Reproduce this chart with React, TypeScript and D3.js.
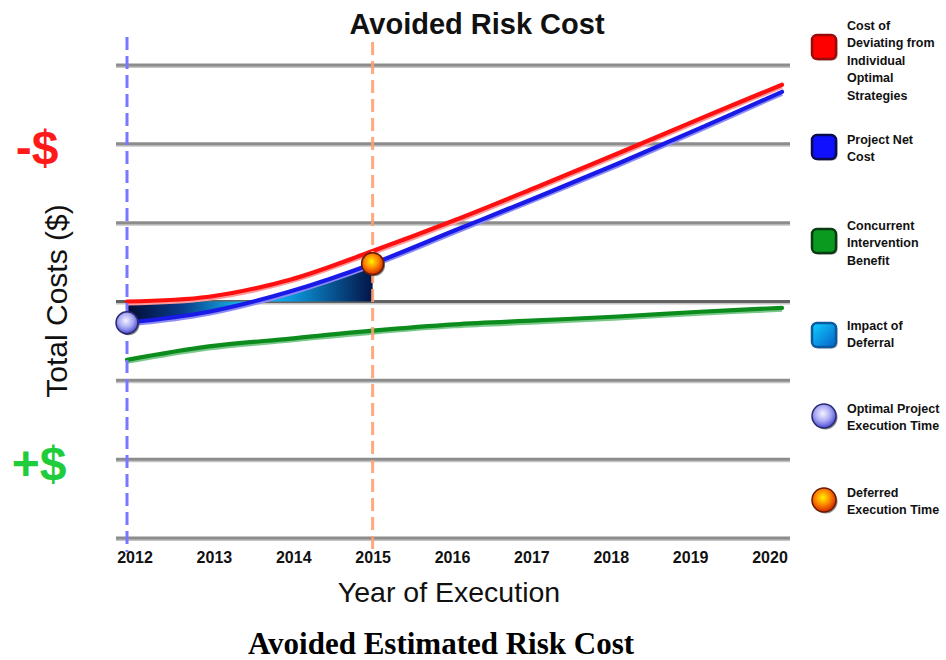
import React from "react";
import * as d3 from "d3";

// Years on the horizontal axis
const years = [2012, 2013, 2014, 2015, 2016, 2017, 2018, 2019, 2020];

// Cost curves (relative cost units; 0 = reference line, positive = higher cost)
const deviationCost = [0, 0.06, 0.28, 0.64, 1.03, 1.45, 1.88, 2.32, 2.75];
const projectNetCost = [-0.27, -0.13, 0.13, 0.48, 0.9, 1.32, 1.75, 2.2, 2.66];
const interventionBenefit = [-0.74, -0.57, -0.47, -0.37, -0.29, -0.24, -0.19, -0.13, -0.08];

// Horizontal grid levels
const gridLevels = [3, 2, 1, 0, -1, -2, -3];

const optimalYear = 2012;
const deferredYear = 2015;

// Legend entries
const legendLabels = [
  ["Cost of", "Deviating from", "Individual", "Optimal", "Strategies"],
  ["Project Net", "Cost"],
  ["Concurrent", "Intervention", "Benefit"],
  ["Impact of", "Deferral"],
  ["Optimal Project", "Execution Time"],
  ["Deferred", "Execution Time"],
];
const legendKinds = ["red", "blue", "green", "impact", "optimal", "deferred"];

const W = 946;
const H = 660;

export default function App() {
  const x = d3.scaleLinear().domain([2012, 2020]).range([127, 782]);
  const y = d3.scaleLinear().domain([-3, 3]).range([538, 65]);
  const xLabel = d3.scalePoint<number>().domain(years).range([135, 770]);

  const curve = d3.curveCatmullRom.alpha(0.5);

  const line = (vals: number[]) =>
    d3
      .line<number>()
      .x((_, i) => x(years[i]))
      .y((v) => y(v))
      .curve(curve)(vals) || "";

  const impactArea =
    d3
      .area<number>()
      .x((_, i) => x(years[i]))
      .y0(y(0))
      .y1((v) => y(v))
      .curve(curve)(projectNetCost) || "";

  const optIdx = years.indexOf(optimalYear);
  const defIdx = years.indexOf(deferredYear);

  const sans = "'Liberation Sans', Arial, sans-serif";

  const legendFirstLine = [25, 139, 225, 325, 408, 492];
  const legendSymbolY = [47, 147, 241, 335, 416, 500];

  const symbol = (kind: string, cy: number) => {
    const sx = 812;
    const s = 24;
    if (kind === "optimal" || kind === "deferred") {
      return (
        <g>
          <circle cx={sx + 12 + 1.5} cy={cy + 1.5} r={12} fill="#444" opacity={0.6} />
          <circle
            cx={sx + 12}
            cy={cy}
            r={12}
            fill={kind === "optimal" ? "url(#gOptimal)" : "url(#gDeferred)"}
            stroke={kind === "optimal" ? "#2a2a70" : "#6a1a00"}
            strokeWidth={1.5}
          />
        </g>
      );
    }
    const fills: Record<string, string> = {
      red: "#ff0000",
      blue: "#1010ff",
      green: "#0a9a20",
      impact: "url(#gImpactSym)",
    };
    const strokes: Record<string, string> = {
      red: "#9a0a0a",
      blue: "#0a0a50",
      green: "#0a3a12",
      impact: "#0a5aa0",
    };
    return (
      <g>
        <rect x={sx + 1.5} y={cy - s / 2 + 1.5} width={s} height={s} rx={5} fill="#333" opacity={0.5} />
        <rect
          x={sx}
          y={cy - s / 2}
          width={s}
          height={s}
          rx={5}
          fill={fills[kind]}
          stroke={strokes[kind]}
          strokeWidth={2.5}
        />
      </g>
    );
  };

  return (
    <svg
      width={W}
      height={H}
      viewBox={`0 0 ${W} ${H}`}
      style={{ position: "absolute", left: 0, top: 0, display: "block", background: "#fff" }}
    >
      <defs>
        <linearGradient id="gImpact" x1={x(2012)} x2={x(2015)} y1={0} y2={0} gradientUnits="userSpaceOnUse">
          <stop offset="0%" stopColor="#030c34" />
          <stop offset="22%" stopColor="#083a88" />
          <stop offset="50%" stopColor="#16c8f6" />
          <stop offset="65%" stopColor="#0c9ee4" />
          <stop offset="100%" stopColor="#031448" />
        </linearGradient>
        <linearGradient id="gImpactSym" x1="0" x2="1" y1="0" y2="1">
          <stop offset="0%" stopColor="#10d0ff" />
          <stop offset="100%" stopColor="#0660c8" />
        </linearGradient>
        <radialGradient id="gOptimal" cx="45%" cy="40%" r="60%">
          <stop offset="0%" stopColor="#f4f4ff" />
          <stop offset="55%" stopColor="#a8a8f4" />
          <stop offset="100%" stopColor="#4a4ad0" />
        </radialGradient>
        <radialGradient id="gDeferred" cx="45%" cy="40%" r="60%">
          <stop offset="0%" stopColor="#fff200" />
          <stop offset="50%" stopColor="#ff8a00" />
          <stop offset="100%" stopColor="#d02800" />
        </radialGradient>
        <clipPath id="deferClip">
          <rect x={x(2012)} y={0} width={x(2015) - x(2012)} height={H} />
        </clipPath>
      </defs>

      {/* Title */}
      <text x={477} y={34} textAnchor="middle" fontFamily={sans} fontWeight="bold" fontSize={29} fill="#111">
        Avoided Risk Cost
      </text>

      {/* Horizontal grid */}
      {gridLevels.map((g) => (
        <g key={g}>
          <line x1={116} x2={790} y1={y(g) + 2} y2={y(g) + 2} stroke="#c4c4c4" strokeWidth={2} />
          <line
            x1={116}
            x2={790}
            y1={y(g)}
            y2={y(g)}
            stroke={g === 0 ? "#636363" : "#8c8c8c"}
            strokeWidth={3}
          />
        </g>
      ))}

      {/* Impact of deferral */}
      <path d={impactArea} fill="url(#gImpact)" clipPath="url(#deferClip)" />

      {/* Cost curves */}
      {[
        { vals: interventionBenefit, color: "#0c8c1c", shade: "#7ac88a" },
        { vals: projectNetCost, color: "#1a1ae8", shade: "#8c8cf4" },
        { vals: deviationCost, color: "#ff1010", shade: "#ff9a9a" },
      ].map((s, i) => (
        <g key={i}>
          <path d={line(s.vals)} fill="none" stroke={s.shade} strokeWidth={4} transform="translate(0,2)" />
          <path d={line(s.vals)} fill="none" stroke={s.color} strokeWidth={4.2} strokeLinecap="round" />
        </g>
      ))}

      {/* Execution time markers */}
      <line
        x1={x(optimalYear)}
        x2={x(optimalYear)}
        y1={37}
        y2={552}
        stroke="#7878ff"
        strokeWidth={3}
        strokeDasharray="13,6"
      />
      <line
        x1={x(deferredYear)}
        x2={x(deferredYear)}
        y1={42}
        y2={550}
        stroke="#ffa070"
        strokeWidth={3}
        strokeDasharray="13,6"
        opacity={0.9}
      />

      <circle cx={x(optimalYear) + 1.5} cy={y(projectNetCost[optIdx]) + 1.5} r={11} fill="#333" opacity={0.6} />
      <circle
        cx={x(optimalYear)}
        cy={y(projectNetCost[optIdx])}
        r={11}
        fill="url(#gOptimal)"
        stroke="#2a2a70"
        strokeWidth={1.5}
      />
      <circle cx={x(deferredYear) + 1.5} cy={y(projectNetCost[defIdx]) + 1.5} r={11} fill="#333" opacity={0.6} />
      <circle
        cx={x(deferredYear)}
        cy={y(projectNetCost[defIdx])}
        r={11}
        fill="url(#gDeferred)"
        stroke="#6a1a00"
        strokeWidth={1.5}
      />

      {/* Year labels */}
      {years.map((yr) => (
        <text
          key={yr}
          x={xLabel(yr)}
          y={563}
          textAnchor="middle"
          fontFamily={sans}
          fontWeight="bold"
          fontSize={16}
          fill="#111"
        >
          {yr}
        </text>
      ))}

      {/* Axis titles */}
      <text x={449} y={602} textAnchor="middle" fontFamily={sans} fontSize={28.5} fill="#111">
        Year of Execution
      </text>
      <text
        transform="translate(67,301) rotate(-90)"
        textAnchor="middle"
        fontFamily={sans}
        fontSize={30}
        fill="#111"
      >
        Total Costs ($)
      </text>
      <text x={37} y={164} textAnchor="middle" fontFamily={sans} fontWeight="bold" fontSize={48} fill="#ff1a1a">
        -$
      </text>
      <text x={39} y={480} textAnchor="middle" fontFamily={sans} fontWeight="bold" fontSize={48} fill="#1ecc3c">
        +$
      </text>

      {/* Legend */}
      {legendLabels.map((lines, i) => (
        <g key={i}>
          {symbol(legendKinds[i], legendSymbolY[i])}
          {lines.map((t, j) => (
            <text
              key={j}
              x={847}
              y={legendFirstLine[i] + 4.5 + j * 17.5}
              fontFamily={sans}
              fontWeight="bold"
              fontSize={12.5}
              fill="#111"
            >
              {t}
            </text>
          ))}
        </g>
      ))}

      {/* Caption */}
      <text
        x={441}
        y={654}
        textAnchor="middle"
        fontFamily="'Liberation Serif', 'Times New Roman', serif"
        fontWeight="bold"
        fontSize={31}
        fill="#000"
      >
        Avoided Estimated Risk Cost
      </text>
    </svg>
  );
}
